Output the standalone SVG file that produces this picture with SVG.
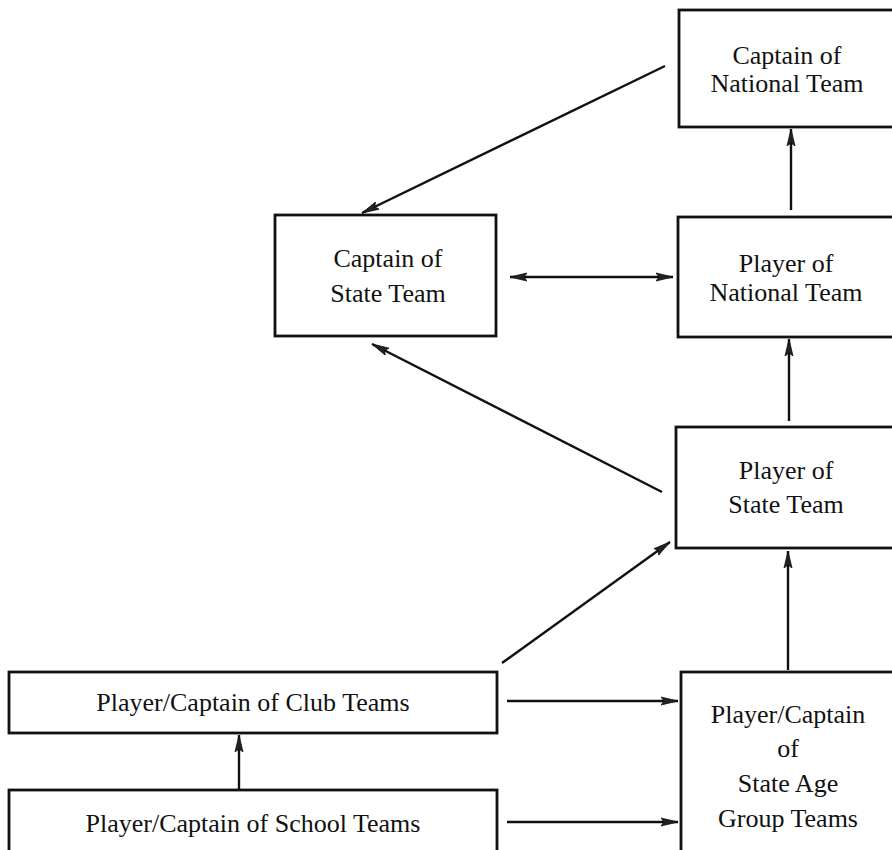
<svg xmlns="http://www.w3.org/2000/svg" width="892" height="850" viewBox="0 0 892 850">
<style>
.box{fill:#fff;stroke:#111;stroke-width:2.8}
.lbl{font-family:"Liberation Serif","Times New Roman",serif;font-size:26px;fill:#111;text-anchor:middle}
.con{stroke:#111;stroke-width:2.4;fill:none}
</style>
<defs>
<marker id="ah" markerUnits="userSpaceOnUse" markerWidth="18" markerHeight="10" refX="17" refY="5" orient="auto-start-reverse">
<path d="M0,1 L17,5 L0,9 L3,5 Z" fill="#222" stroke="#111" stroke-width="0.8"/>
</marker>
</defs>
<rect width="892" height="850" fill="#fff"/>
<g id="connectors">
<line class="con" x1="665" y1="66" x2="362" y2="213" marker-end="url(#ah)"/>
<line class="con" x1="662" y1="492" x2="372" y2="344" marker-end="url(#ah)"/>
<line class="con" x1="510" y1="277" x2="673" y2="277" marker-start="url(#ah)" marker-end="url(#ah)"/>
<line class="con" x1="791" y1="210" x2="791" y2="129" marker-end="url(#ah)"/>
<line class="con" x1="789" y1="421" x2="789" y2="339" marker-end="url(#ah)"/>
<line class="con" x1="788" y1="670" x2="788" y2="551" marker-end="url(#ah)"/>
<line class="con" x1="502" y1="663" x2="670" y2="542" marker-end="url(#ah)"/>
<line class="con" x1="239" y1="790" x2="239" y2="735" marker-end="url(#ah)"/>
<line class="con" x1="507" y1="701" x2="678" y2="701" marker-end="url(#ah)"/>
<line class="con" x1="507" y1="822" x2="678" y2="822" marker-end="url(#ah)"/>
</g>
<g id="captain-national">
<rect class="box" x="679" y="10" width="220" height="117"/>
<text class="lbl" x="787" y="64">Captain of</text>
<text class="lbl" x="787" y="92">National Team</text>
</g>
<g id="player-national">
<rect class="box" x="678" y="217" width="220" height="120"/>
<text class="lbl" x="786" y="272">Player  of</text>
<text class="lbl" x="786" y="301">National Team</text>
</g>
<g id="captain-state">
<rect class="box" x="275" y="215" width="221" height="121"/>
<text class="lbl" x="388" y="267">Captain of</text>
<text class="lbl" x="388" y="302">State Team</text>
</g>
<g id="player-state">
<rect class="box" x="676" y="427" width="222" height="121"/>
<text class="lbl" x="786" y="479">Player of</text>
<text class="lbl" x="786" y="513">State Team</text>
</g>
<g id="club">
<rect class="box" x="9" y="672" width="488" height="61"/>
<text class="lbl" x="253" y="711">Player/Captain of Club Teams</text>
</g>
<g id="school">
<rect class="box" x="9" y="790" width="488" height="72"/>
<text class="lbl" x="253" y="832">Player/Captain of School Teams</text>
</g>
<g id="age-group">
<rect class="box" x="681" y="672" width="217" height="190"/>
<text class="lbl" x="788" y="723">Player/Captain</text>
<text class="lbl" x="788" y="757">of</text>
<text class="lbl" x="788" y="792">State Age</text>
<text class="lbl" x="788" y="827">Group Teams</text>
</g>
</svg>
